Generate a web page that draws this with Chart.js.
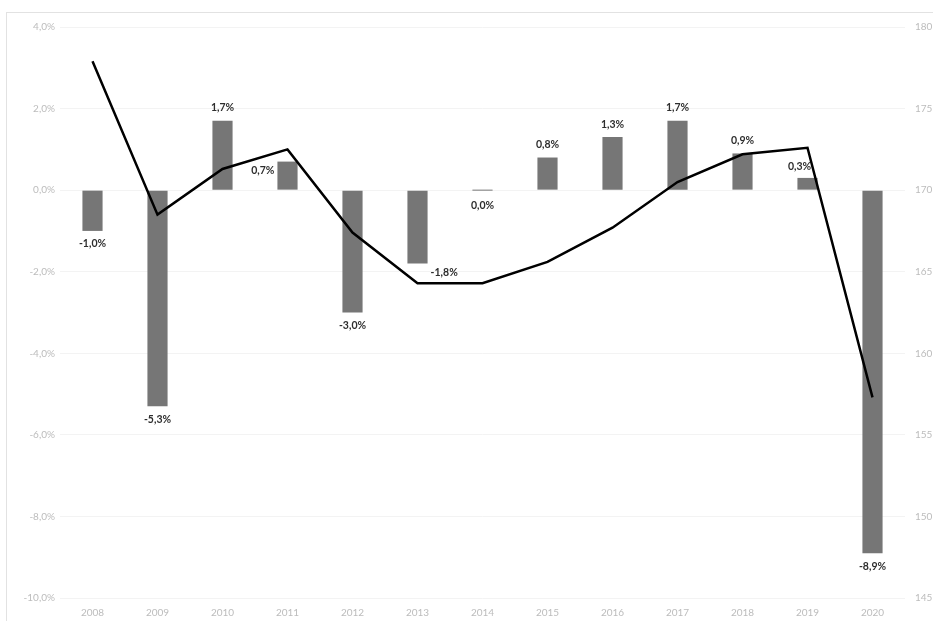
<!DOCTYPE html>
<html>
<head>
<meta charset="utf-8">
<script src="https://cdn.jsdelivr.net/npm/chart.js@4.4.1/dist/chart.umd.min.js"></script>
<style>
  html, body { margin: 0; padding: 0; background: #fff; overflow: hidden; }
  #wrap { position: relative; width: 960px; height: 621px; }
  #frame { position: absolute; left: 6px; top: 12px; width: 960px; height: 620px;
           border-top: 1px solid #e2e2e2; border-left: 1px solid #e2e2e2; }
</style>
</head>
<body>
<div id="wrap">
  <div id="frame"></div>
  <canvas id="chart" width="960" height="621"></canvas>
</div>
<script>
    "use strict";

    // Data
    var years = ["2008", "2009", "2010", "2011", "2012", "2013", "2014",
                 "2015", "2016", "2017", "2018", "2019", "2020"];
    var growth = [-1.0, -5.3, 1.7, 0.7, -3.0, -1.8, 0.0, 0.8, 1.3, 1.7, 0.9, 0.3, -8.9];
    var level = [177.9, 168.5, 171.3, 172.5, 167.4, 164.3, 164.3, 165.6, 167.7, 170.5, 172.2, 172.6, 157.3];
    var labelSide = ["below", "below", "above", "left", "below", "right", "below",
                     "above", "above", "above", "above", "aboveleft", "below"];

    function pct(v) {
        return v.toFixed(1).replace(".", ",") + "%";
    }

    // Bar value labels
    var barLabels = {
        id: "barLabels",
        afterDatasetsDraw: function (chart) {
            var ctx = chart.ctx;
            var meta = chart.getDatasetMeta(1);
            ctx.save();
            ctx.font = "bold 10.5px Lato, 'Open Sans', sans-serif";
            ctx.fillStyle = "#2e2e2e";
            meta.data.forEach(function (bar, i) {
                var v = growth[i];
                var side = labelSide[i];
                var txt = pct(v);
                var x = bar.x, y = bar.y;
                var half = bar.width / 2;
                ctx.textBaseline = "middle";
                if (side === "above") {
                    ctx.textAlign = "center";
                    ctx.fillText(txt, x, y - 13);
                } else if (side === "aboveleft") {
                    ctx.textAlign = "center";
                    ctx.fillText(txt, x - 8, y - 11);
                } else if (side === "below") {
                    ctx.textAlign = "center";
                    ctx.fillText(txt, x, y + (v === 0 ? 15 : 13));
                } else if (side === "left") {
                    ctx.textAlign = "right";
                    ctx.fillText(txt, x - half - 3, y + 9);
                } else {
                    ctx.textAlign = "left";
                    ctx.fillText(txt, x + half + 3, y + 9);
                }
            });
            ctx.restore();
        }
    };

    var ctx1 = document.getElementById("chart").getContext("2d");
    var myChart1 = new Chart(ctx1, {
        data: {
            labels: years,
            datasets: [{
                    type: "line",
                    label: "Level",
                    data: level,
                    yAxisID: "y2",
                    borderColor: "#000",
                    borderWidth: 2.5,
                    pointRadius: 0,
                    tension: 0,
                    fill: false,
                    order: 0
                },
                {
                    type: "bar",
                    label: "Growth",
                    data: growth,
                    yAxisID: "y",
                    backgroundColor: "#767676",
                    categoryPercentage: 1,
                    barPercentage: 0.31,
                    minBarLength: 1,
                    order: 1
                }
            ]
        },
        options: {
            responsive: false,
            animation: false,
            layout: { padding: { top: 27, bottom: 0, left: 0, right: 0 } },
            plugins: {
                legend: { display: false },
                tooltip: { enabled: false }
            },
            scales: {
                x: {
                    grid: { display: false, drawTicks: false },
                    border: { display: false },
                    ticks: {
                        color: "#bcbcbc",
                        font: { family: "Lato, 'Open Sans', sans-serif", size: 10 },
                        padding: 9
                    },
                    afterFit: function (s) { s.height = 23; }
                },
                y: {
                    position: "left",
                    min: -10,
                    max: 4,
                    grid: { color: "#f3f3f3", drawTicks: false },
                    border: { display: false },
                    ticks: {
                        stepSize: 2,
                        color: "#bcbcbc",
                        padding: 5,
                        font: { family: "Lato, 'Open Sans', sans-serif", size: 10 },
                        callback: function (v) { return pct(v); }
                    },
                    afterFit: function (s) { s.width = 60; }
                },
                y2: {
                    position: "right",
                    min: 145,
                    max: 180,
                    grid: { display: false, drawTicks: false },
                    border: { display: false },
                    ticks: {
                        stepSize: 5,
                        color: "#bcbcbc",
                        padding: 10,
                        font: { family: "Lato, 'Open Sans', sans-serif", size: 10 },
                        callback: function (v) { return v.toFixed(1).replace(".", ","); }
                    },
                    afterFit: function (s) { s.width = 55; }
                }
            }
        },
        plugins: [barLabels]
    });
</script>
</body>
</html>
